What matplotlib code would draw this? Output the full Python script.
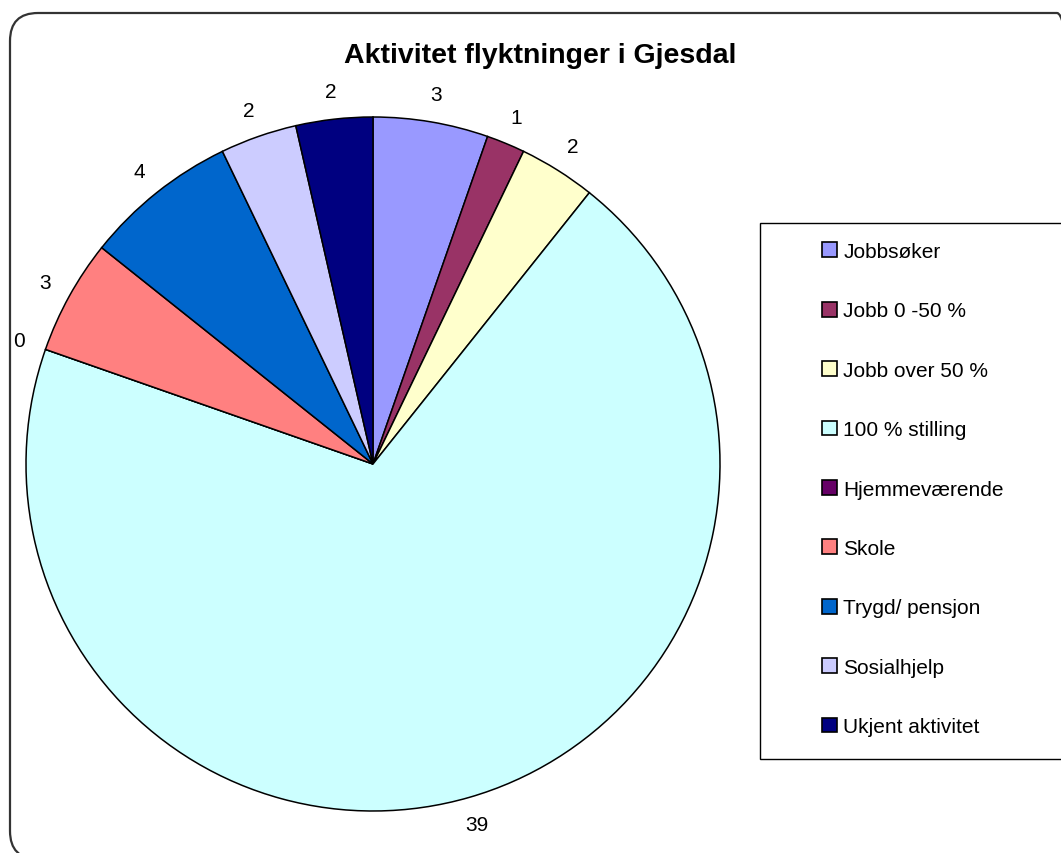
import matplotlib
matplotlib.use("Agg")
from matplotlib import pyplot as plt
from matplotlib.patches import FancyBboxPatch, Rectangle

plt.rcParams['font.family'] = ['Liberation Sans', 'DejaVu Sans']

categories = ["Jobbsøker", "Jobb 0 -50 %", "Jobb over 50 %", "100 % stilling",
              "Hjemmeværende", "Skole", "Trygd/ pensjon", "Sosialhjelp",
              "Ukjent aktivitet"]
values = [3, 1, 2, 39, 0, 3, 4, 2, 2]
colors = ["#9999FF", "#993366", "#FFFFCC", "#CCFFFF", "#660066",
          "#FF8080", "#0066CC", "#CCCCFF", "#000080"]
title = "Aktivitet flyktninger i Gjesdal"

W, H = 1061, 854
fig = plt.figure(figsize=(W / 100, H / 100), dpi=100)

# rounded outer border, in pixel coords (origin bottom-left)
border = FancyBboxPatch((10, -6), 1075, 846,
                        boxstyle="round,pad=0,rounding_size=28",
                        transform=None, facecolor="none",
                        edgecolor="#333333", linewidth=1.6)
fig.patches.append(border)

# pie axes: center (373, 465) px, radius 347 px
cx, cy, r = 373, 465, 347
ax = fig.add_axes([(cx - r) / W, (H - cy - r) / H, 2 * r / W, 2 * r / H])
ax.set_axis_off()

total = sum(values)
wedges, texts, autotexts = ax.pie(
    values, colors=colors, startangle=90, counterclock=False,
    wedgeprops=dict(edgecolor="black", linewidth=1.1),
    autopct=lambda p: f"{p * total / 100:.0f}", pctdistance=1.08,
    textprops=dict(fontsize=15, color="black"))
ax.set_xlim(-1, 1)
ax.set_ylim(-1, 1)
ax.set_aspect("equal")

fig.text(540 / W, 1 - 56 / H, title, ha="center", va="center",
         fontsize=20.5, fontweight="bold")

# legend frame
fig.patches.append(Rectangle((760 / W, 1 - 760 / H), 320 / W, 536 / H,
                             transform=fig.transFigure, facecolor="white",
                             edgecolor="black", linewidth=1.0))

leg = fig.legend(wedges, categories, loc="upper left",
                 bbox_to_anchor=(822 / W, 1 - 243 / H), frameon=False,
                 fontsize=15, handlelength=0.72, handleheight=0.72,
                 handletextpad=0.3, labelspacing=1.94, borderpad=0,
                 borderaxespad=0)
for h in leg.legend_handles:
    h.set_edgecolor("black")
    h.set_linewidth(1.2)

fig.savefig("out.png", dpi=100)
